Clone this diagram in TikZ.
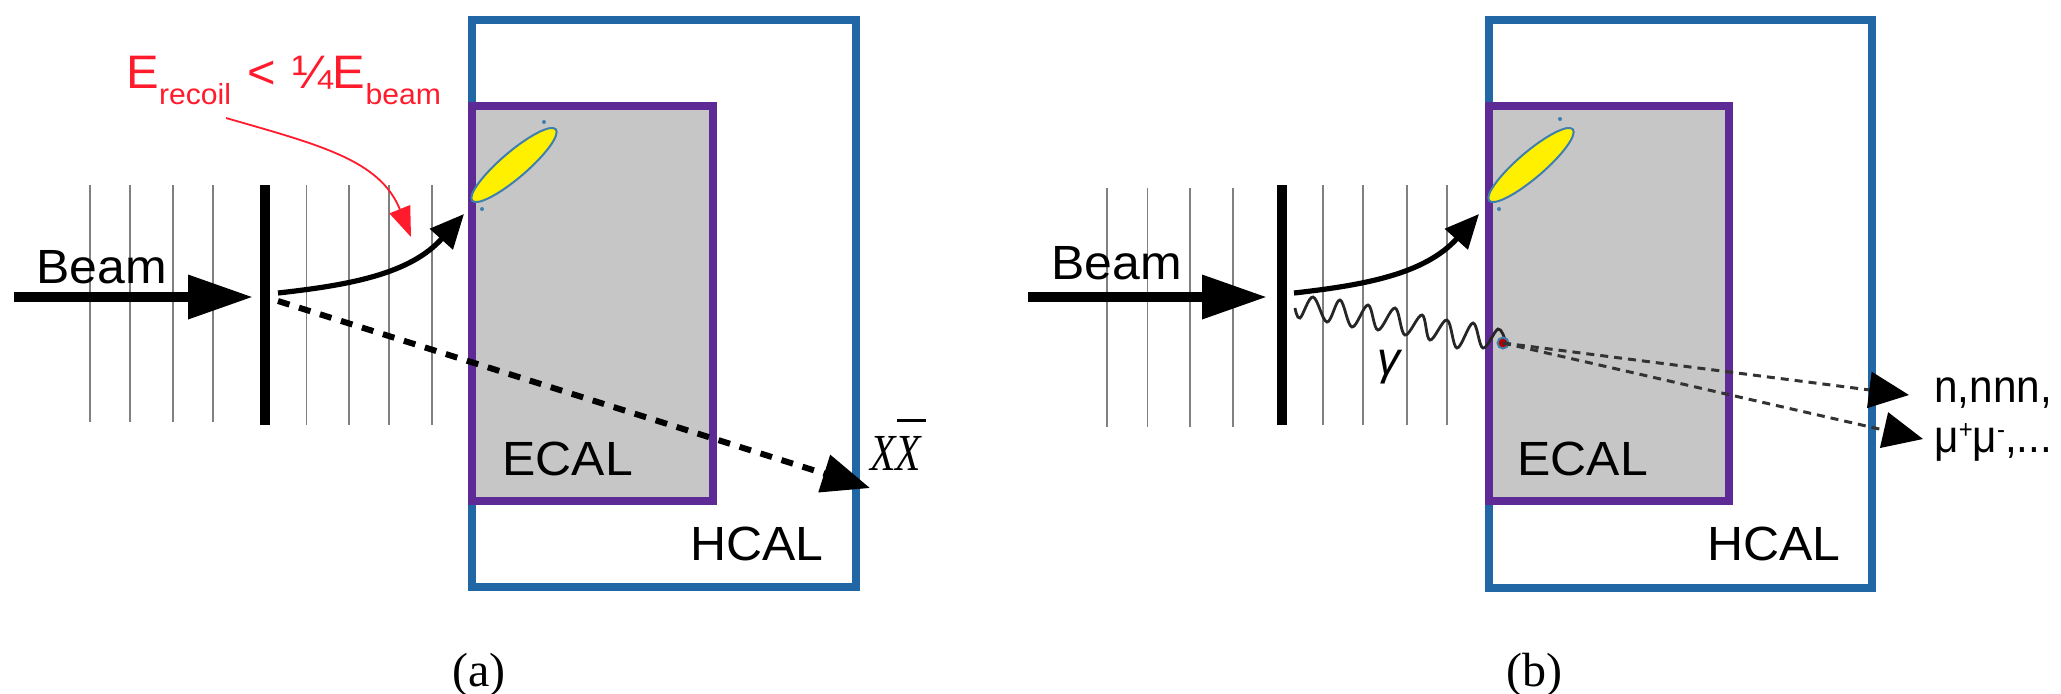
\documentclass[tikz,border=0pt]{standalone}
\usepackage{fontspec}
\setmainfont{Liberation Sans}
\newfontfamily\serifcap{Liberation Serif}
\usetikzlibrary{arrows.meta,shapes.geometric}
\definecolor{hcalblue}{HTML}{2166A5}
\definecolor{ecalpurple}{HTML}{5E2A96}
\definecolor{ecalgray}{HTML}{C6C6C6}
\definecolor{recoilred}{HTML}{FF1A2C}
\definecolor{ringblue}{HTML}{3F7FAE}
\definecolor{showeryellow}{HTML}{FFF000}
\newcommand{\pxfont}[1]{\fontsize{#1}{#1}\selectfont}
\tikzset{
  x=0.5pt,y=-0.5pt,
  hcalbox/.style={draw=hcalblue,line width=3.6pt,fill=white,outer sep=0pt,inner sep=0pt,anchor=north west},
  ecalbox/.style={draw=ecalpurple,line width=3.6pt,fill=ecalgray,outer sep=0pt,inner sep=0pt,anchor=north west},
  thinline/.style={draw=black!50,line width=0.9pt},
  barline/.style={draw=black,line width=5pt},
  beamarrow/.style={draw=black,line width=5pt,-{Triangle[length=32.5pt,width=21pt]}},
  recoilarrow/.style={draw=black,line width=2.6pt,-{Triangle[length=17pt,width=15pt]}},
  missarrow/.style={draw=black,line width=3pt,dash pattern=on 6pt off 5pt,-{Triangle[length=24pt,width=19pt]}},
  prodarrow/.style={draw=black!80,line width=1.5pt,dash pattern=on 4pt off 3pt,-{Triangle[length=20pt,width=18pt,black]}},
  labelarrow/.style={draw=recoilred,line width=0.9pt,-{Triangle[length=15pt,width=11pt,fill=recoilred]}},
  shower/.style={ellipse,draw=ringblue,line width=1pt,fill=showeryellow,inner sep=0pt,minimum width=55pt,minimum height=13pt,rotate=40.5},
  showerdot/.style={circle,fill=ringblue,inner sep=0pt,minimum size=2pt},
  lab/.style={font=\pxfont{24pt},inner sep=0pt,anchor=base west,xscale=1.04,text=black},
  captext/.style={font=\serifcap\pxfont{24pt},inner sep=0pt,anchor=base,text=black},
  outlab/.style={font=\pxfont{23pt},inner sep=0pt,anchor=base west,xscale=0.92,text=black},
}
\begin{document}
\begin{tikzpicture}
\useasboundingbox (0,0) rectangle (2061,693);
% ---------- panel a
\node[hcalbox,minimum width=192pt,minimum height=283.5pt] (hcalA) at (472,20) {};
\node[ecalbox,minimum width=120.5pt,minimum height=197.5pt] (ecalA) at (472,106) {};
\foreach \x/\yb in {90/422,130/422,173/422,213/422,306.5/425,349/425,389/425,432/425}
  \draw[thinline] (\x,185) -- (\x,\yb);
\coordinate (barAt) at (265,185); \coordinate (barAb) at (265,425);
\draw[barline] (barAt) -- (barAb);
\coordinate (beamAs) at (14,297); \coordinate (beamAe) at (253,297);
\draw[beamarrow] (beamAs) -- (beamAe);
\node[lab] (beamA) at (36,283) {Beam};
\coordinate (recAs) at (278,293); \coordinate (recAe) at (464,214);
\draw[recoilarrow] (recAs) .. controls (350,285) and (410,274) .. (recAe);
\coordinate (missAs) at (278,301); \coordinate (missAe) at (870,488);
\draw[missarrow] (missAs) -- (missAe);
\node[shower] (showerA) at (514,165) {};
\node[showerdot] (dotA1) at (544,122) {};
\node[showerdot] (dotA2) at (482,209) {};
\node[lab] (ecalTextA) at (502,475) {ECAL};
\node[lab] (hcalTextA) at (690,560) {HCAL};
\node[font=\pxfont{23.5pt},inner sep=0pt,anchor=base west,text=recoilred,xscale=1.04] (cutA) at (126,88)
  {E\raisebox{-8pt}{\pxfont{14.5pt}recoil}\,\,<\,\,¼E\raisebox{-8pt}{\pxfont{14.5pt}beam}};
\coordinate (redAs) at (226,118); \coordinate (redAe) at (411,237);
\draw[labelarrow] (redAs) .. controls (320,145) and (380,160) .. (redAe);
\node[font=\serifcap\itshape\pxfont{26pt},inner sep=0pt,anchor=base west,xscale=0.8] (xxA) at (870,470) {X\rlap{\hspace{1pt}\raisebox{24pt}{\rule{18pt}{1.3pt}}}X};
\node[captext] (capA) at (479,686) {(a)};
% ---------- panel b
\node[hcalbox,minimum width=191.5pt,minimum height=284pt] (hcalB) at (1489,20) {};
\node[ecalbox,minimum width=120pt,minimum height=197.5pt] (ecalB) at (1489,106) {};
\foreach \x/\yt/\yb in {1107/188/427,1147.5/188/427,1190/188/427,1233/188/427,1323/185/425,1363/185/425,1407/185/425,1447/185/425}
  \draw[thinline] (\x,\yt) -- (\x,\yb);
\coordinate (barBt) at (1282,185); \coordinate (barBb) at (1282,425);
\draw[barline] (barBt) -- (barBb);
\coordinate (beamBs) at (1028,297); \coordinate (beamBe) at (1267,297);
\draw[beamarrow] (beamBs) -- (beamBe);
\node[lab] (beamB) at (1051,279) {Beam};
\coordinate (recBs) at (1294,293); \coordinate (recBe) at (1479,214);
\draw[recoilarrow] (recBs) .. controls (1365,285) and (1425,274) .. (recBe);
\draw[black!85,line width=1.4pt] plot[smooth,tension=0.6] coordinates {
 (1295,308) (1300,318) (1313,297) (1327,322) (1340,300) (1352,327) (1368,305) (1378,330)
 (1395,308) (1405,335) (1422,315) (1430,340) (1447,320) (1457,348) (1473,323) (1483,348) (1498,329) (1505,340)};
\node[font=\itshape\pxfont{23pt},inner sep=0pt,anchor=base] (gamma) at (1389,374) {γ};
\node[circle,draw=ringblue,line width=1pt,fill=red!70!black,inner sep=0pt,minimum size=5.5pt] (vertex) at (1503,343) {};
\coordinate (prodAe) at (1909,395); \coordinate (prodBe) at (1923,439);
\draw[prodarrow] (vertex.center) -- (prodAe);
\draw[prodarrow] (vertex.center) -- (prodBe);
\node[shower] (showerB) at (1531,165) {};
\node[showerdot] (dotB1) at (1560,119) {};
\node[showerdot] (dotB2) at (1499,209) {};
\node[lab] (ecalTextB) at (1517,475) {ECAL};
\node[lab] (hcalTextB) at (1707,560) {HCAL};
\node[outlab] (nlab) at (1934,402) {n,nnn,};
\node[outlab] (mulab) at (1934,452) {μ\raisebox{7pt}{\pxfont{13pt}+}μ\raisebox{7pt}{\pxfont{13pt}-},...};
\node[captext] (capB) at (1534,686) {(b)};
\end{tikzpicture}
\end{document}
